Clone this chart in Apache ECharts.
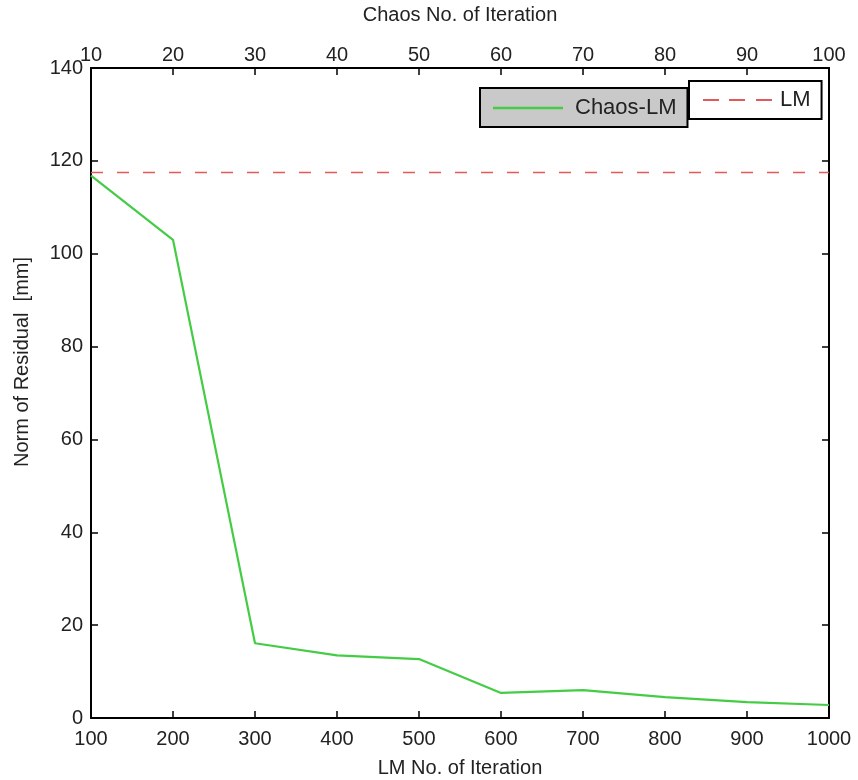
<!DOCTYPE html>
<html>
<head>
<meta charset="utf-8">
<script src="https://cdn.jsdelivr.net/npm/echarts@6/dist/echarts.min.js"></script>
<style>
html,body{margin:0;padding:0;background:#fff;}
#chart{width:858px;height:780px;}
</style>
</head>
<body>
<div id="chart"></div>
<script>
// ---- data ----
var lmIterations = [100, 200, 300, 400, 500, 600, 700, 800, 900, 1000];
var chaosLM = [116.8, 103, 16.1, 13.5, 12.7, 5.4, 6.0, 4.5, 3.4, 2.8];
var lmLevel = 117.5;
var lmRange = [100, 1000];
var chaosRange = [10, 100];
var yRange = [0, 140];

var FONT = 'Liberation Sans, Arial, sans-serif';
var TXT = '#222';
var GREEN = '#45cc45';
var RED = '#e05a5a';

var chart = echarts.init(document.getElementById('chart'));

var chaosData = lmIterations.map(function (x, i) { return [x, chaosLM[i]]; });
var lmData = lmRange.map(function (x) { return [x, lmLevel]; });

var axisLine = { show: true, onZero: false, lineStyle: { color: '#000', width: 2 } };
var axisTick = { show: true, inside: true, length: 7, lineStyle: { color: '#000', width: 1.5 } };
var plain = function (v) { return String(v); };

chart.setOption({
  animation: false,
  backgroundColor: '#fff',
  grid: { left: 91, right: 29, top: 68, bottom: 62, containLabel: false, outerBoundsMode: 'none' },
  xAxis: [
    {
      type: 'value', position: 'bottom', min: lmRange[0], max: lmRange[1], interval: 100,
      name: 'LM No. of Iteration', nameLocation: 'middle', nameGap: 40,
      nameTextStyle: { fontFamily: FONT, fontSize: 20, color: TXT },
      axisLine: axisLine, axisTick: axisTick, splitLine: { show: false },
      axisLabel: { margin: 11, fontFamily: FONT, fontSize: 20, color: TXT, formatter: plain }
    },
    {
      type: 'value', position: 'top', min: chaosRange[0], max: chaosRange[1], interval: 10,
      name: 'Chaos No. of Iteration', nameLocation: 'middle', nameGap: 43,
      nameTextStyle: { fontFamily: FONT, fontSize: 20, color: TXT },
      axisLine: axisLine, axisTick: axisTick, splitLine: { show: false },
      axisLabel: { margin: 3, fontFamily: FONT, fontSize: 20, color: TXT, formatter: plain }
    }
  ],
  yAxis: [
    {
      type: 'value', position: 'left', min: yRange[0], max: yRange[1], interval: 20,
      axisLine: axisLine, axisTick: axisTick, splitLine: { show: false },
      axisLabel: { margin: 8, fontFamily: FONT, fontSize: 20, color: TXT, formatter: plain }
    },
    {
      type: 'value', position: 'right', min: yRange[0], max: yRange[1], interval: 20,
      axisLine: axisLine, axisTick: axisTick, splitLine: { show: false },
      axisLabel: { show: false }
    }
  ],
  legend: [
    {
      data: [{ name: 'Chaos-LM', icon: 'path://M0,0 L70,0 L70,2.5 L0,2.5 Z' }],
      left: 480, top: 88, orient: 'horizontal',
      backgroundColor: '#c9c9c9', borderColor: '#000', borderWidth: 2, borderRadius: 0,
      padding: [9, 11, 8, 13], itemWidth: 70, itemHeight: 2.5,
      textStyle: { fontFamily: FONT, fontSize: 22, color: TXT, padding: [0, 0, 0, 7] },
      selectedMode: false
    },
    {
      data: [{ name: 'LM', icon: 'path://M0,0 L16,0 L16,2 L0,2 Z M26,0 L42,0 L42,2 L26,2 Z M53,0 L69,0 L69,2 L53,2 Z' }],
      left: 689, top: 81, orient: 'horizontal',
      backgroundColor: '#fff', borderColor: '#000', borderWidth: 2, borderRadius: 0,
      padding: [8, 11, 8, 14], itemWidth: 69, itemHeight: 2,
      textStyle: { fontFamily: FONT, fontSize: 22, color: TXT, padding: [0, 0, 0, 3] },
      selectedMode: false
    }
  ],
  graphic: [
    {
      type: 'text', x: 22, y: 362, rotation: Math.PI / 2,
      style: { text: 'Norm of Residual  [mm]', fontFamily: FONT, fontSize: 20, fill: TXT,
               align: 'center', verticalAlign: 'middle' }
    }
  ],
  series: [
    {
      name: 'Chaos-LM', type: 'line', xAxisIndex: 0, yAxisIndex: 0,
      data: chaosData, symbol: 'none', showSymbol: false,
      lineStyle: { color: GREEN, width: 2.2 }, itemStyle: { color: GREEN }
    },
    {
      name: 'LM', type: 'line', xAxisIndex: 0, yAxisIndex: 0,
      data: lmData, symbol: 'none', showSymbol: false,
      lineStyle: { color: RED, width: 1.6, type: [12, 14] }, itemStyle: { color: RED }
    }
  ]
});
</script>
</body>
</html>
